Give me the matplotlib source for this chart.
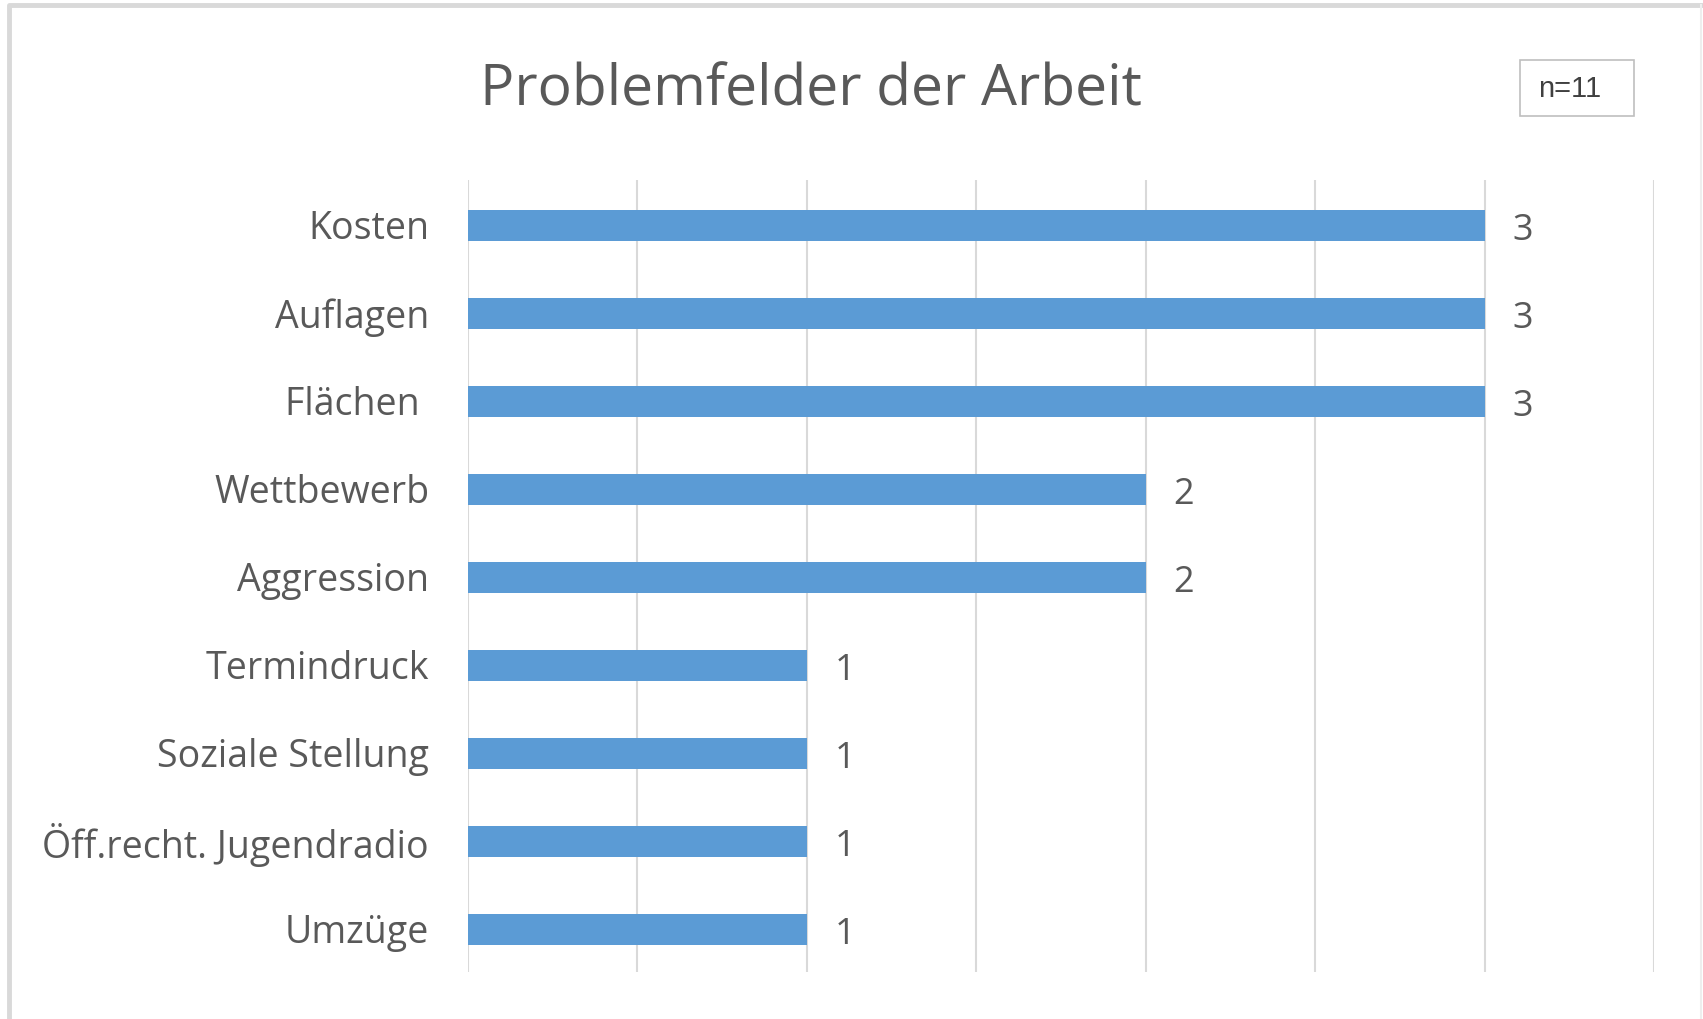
import matplotlib
matplotlib.use("Agg")
import matplotlib.pyplot as plt
from matplotlib.patches import Rectangle
from matplotlib.lines import Line2D

categories = ["Kosten", "Auflagen", "Flächen ", "Wettbewerb", "Aggression",
              "Termindruck", "Soziale Stellung", "Öff.recht. Jugendradio", "Umzüge"]
values = [3, 3, 3, 2, 2, 1, 1, 1, 1]
title = "Problemfelder der Arbeit"
note = "n=11"

BAR = "#5B9BD5"; TXT = "#595959"; GRID = "#d9d9d9"
W, H = 1703, 1020
fig = plt.figure(figsize=(W / 100, H / 100), dpi=100)
ax = fig.add_axes([468 / W, 1 - 973 / H, (1654 - 468) / W, (973 - 181) / H])

ypos = list(range(len(categories)))
ax.barh([y + 0.02 for y in ypos], values, height=0.35, color=BAR, zorder=3)
ax.set_ylim(len(categories) - 0.5, -0.5)
ax.set_xlim(0, 3.5)
ax.set_xticks([i * 0.5 for i in range(8)])
ax.set_xticklabels([])
ax.tick_params(axis="x", length=0)
ax.tick_params(axis="y", length=0, pad=28, labelsize=27, labelcolor=TXT)
ax.set_yticks(ypos)
ax.set_yticklabels(categories, fontfamily="Open Sans")
ax.grid(axis="x", color=GRID, lw=1.5, zorder=0)
for s in ax.spines.values():
    s.set_visible(False)

for y, v in zip(ypos, values):
    ax.annotate(str(v), (v, y), xytext=(20, -4), textcoords="offset points",
                va="center", ha="left", fontsize=26, color=TXT, fontfamily="Open Sans")

fig.text(811 / W, 1 - 91 / H, title, ha="center", va="center", fontsize=41,
         color=TXT, fontfamily="Open Sans")

fig.patches.append(Rectangle((1520 / W, 1 - 117 / H), 114 / W, 56 / H, transform=fig.transFigure,
                             fill=False, ec="#bfbfbf", lw=1.2))
fig.text(1570 / W, 1 - 89 / H, note, ha="center", va="center", fontsize=21,
         color="#404040", fontfamily="Liberation Sans")

# outer frame (top, left, right)
fig.lines.append(Line2D([9 / W, 9 / W, 1701 / W], [0, 1 - 6 / H, 1 - 6 / H], transform=fig.transFigure,
                        color="#d9d9d9", lw=3.5))
fig.lines.append(Line2D([1701 / W, 1701 / W], [1 - 6 / H, 0], transform=fig.transFigure,
                        color="#eeeeee", lw=1.5))

fig.savefig("out.png", dpi=100, facecolor="white")
